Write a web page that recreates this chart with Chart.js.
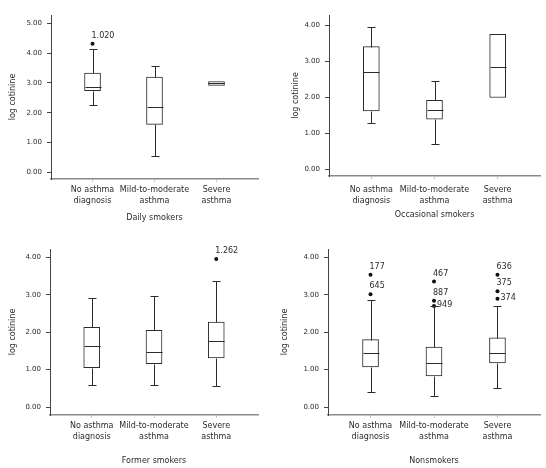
<!DOCTYPE html>
<html>
<head>
<meta charset="utf-8">
<script src="https://cdn.jsdelivr.net/npm/chart.js@4.4.1/dist/chart.umd.min.js"></script>
<style>
    body { margin:0; background:#fff; }
    #wrap { position:relative; width:546px; height:468px; }
    .panel { position:absolute; width:273px; height:234px; }
</style>
</head>
<body>
<div id="wrap">
    <div class="panel" style="left:0; top:0;"><canvas id="c1" width="273" height="234"></canvas></div>
    <div class="panel" style="left:273px; top:0;"><canvas id="c2" width="273" height="234"></canvas></div>
    <div class="panel" style="left:0; top:234px;"><canvas id="c3" width="273" height="234"></canvas></div>
    <div class="panel" style="left:273px; top:234px;"><canvas id="c4" width="273" height="234"></canvas></div>
</div>
<script>
const categoryLabels = [['No asthma', 'diagnosis'], ['Mild-to-moderate', 'asthma'], ['Severe', 'asthma']];
const categoryPos = [1, 2, 3];
const yTicksFive = [0, 1, 2, 3, 4, 5];
const yTicksFour = [0, 1, 2, 3, 4];

// Daily smokers
const dailyLow = [2.26, 0.54, 2.92];
const dailyQ1 = [2.74, 1.61, 2.92];
const dailyMed = [2.88, 2.18, 2.99];
const dailyQ3 = [3.33, 3.20, 3.05];
const dailyHigh = [4.14, 3.56, 3.05];
const dailyOutliers = [{ x: 1, y: 4.32, label: '1.020' }];

// Occasional smokers
const occLow = [1.29, 0.71, 1.99];
const occQ1 = [1.62, 1.39, 1.99];
const occMed = [2.71, 1.63, 2.85];
const occQ3 = [3.40, 1.91, 3.74];
const occHigh = [3.96, 2.44, 3.74];
const occOutliers = [];

// Former smokers
const formerLow = [0.60, 0.60, 0.56];
const formerQ1 = [1.05, 1.16, 1.31];
const formerMed = [1.64, 1.48, 1.77];
const formerQ3 = [2.13, 2.05, 2.27];
const formerHigh = [2.92, 2.97, 3.36];
const formerOutliers = [{ x: 3, y: 3.95, label: '1.262' }];

// Nonsmokers
const nonLow = [0.40, 0.29, 0.51];
const nonQ1 = [1.07, 0.83, 1.18];
const nonMed = [1.45, 1.18, 1.45];
const nonQ3 = [1.80, 1.60, 1.85];
const nonHigh = [2.85, 2.69, 2.71];
const nonOutliers = [
    { x: 1, y: 3.53, label: '177' }, { x: 1, y: 3.01, label: '645' },
    { x: 2, y: 3.35, label: '467' }, { x: 2, y: 2.84, label: '887' }, { x: 2, y: 2.70, label: '949' },
    { x: 3, y: 3.53, label: '636' }, { x: 3, y: 3.09, label: '375' }, { x: 3, y: 2.89, label: '374' }
];
// where each outlier label sits relative to its dot
const nonLabelSide = ['above', 'above', 'above', 'above', 'right', 'above', 'above', 'right'];

const ink = '#2b2b2b';
Chart.defaults.font.family = 'DejaVu Sans';
Chart.defaults.color = ink;

const boxParts = {
    id: 'boxParts',
    afterDatasetsDraw(chart, args, opts) {
        const { ctx, scales: { x, y } } = chart;
        const bars = chart.getDatasetMeta(0).data;
        ctx.save();
        ctx.strokeStyle = ink;
        ctx.lineWidth = 1;
        const line = (x1, y1, x2, y2) => {
            ctx.beginPath();
            ctx.moveTo(Math.round(x1) + 0.5, Math.round(y1) + 0.5);
            ctx.lineTo(Math.round(x2) + 0.5, Math.round(y2) + 0.5);
            ctx.stroke();
        };
        opts.med.forEach((m, i) => {
            const cx = x.getPixelForValue(categoryPos[i]);
            const w = bars[i].width;
            const cap = 8;
            line(cx - w / 2, y.getPixelForValue(m), cx + w / 2, y.getPixelForValue(m));
            if (opts.high[i] > opts.q3[i]) {
                line(cx, y.getPixelForValue(opts.q3[i]), cx, y.getPixelForValue(opts.high[i]));
                line(cx - cap / 2, y.getPixelForValue(opts.high[i]), cx + cap / 2, y.getPixelForValue(opts.high[i]));
            }
            if (opts.low[i] < opts.q1[i]) {
                line(cx, y.getPixelForValue(opts.q1[i]), cx, y.getPixelForValue(opts.low[i]));
                line(cx - cap / 2, y.getPixelForValue(opts.low[i]), cx + cap / 2, y.getPixelForValue(opts.low[i]));
            }
        });
        ctx.font = '8px "DejaVu Sans"';
        ctx.fillStyle = ink;
        ctx.textBaseline = 'middle';
        ctx.textAlign = 'left';
        opts.outliers.forEach((o, i) => {
            const px = x.getPixelForValue(o.x);
            const py = y.getPixelForValue(o.y);
            if ((opts.sides[i] || 'above') === 'right') {
                ctx.fillText(o.label, px + 3, py - 1);
            } else {
                ctx.fillText(o.label, px - 1, py - 8);
            }
        });
        ctx.restore();
    }
};

function makePanel(p) {
    const boxData = categoryPos.map((c, i) => ({ x: c, y: [p.q1[i], p.q3[i]] }));
    new Chart(document.getElementById(p.id), {
        type: 'bar',
        data: {
            datasets: [{
                type: 'bar',
                data: boxData,
                backgroundColor: '#ffffff',
                borderColor: ink,
                borderWidth: 1,
                borderSkipped: false,
                barThickness: 16
            }, {
                type: 'scatter',
                data: p.outliers,
                pointRadius: 2,
                pointBackgroundColor: '#111',
                pointBorderWidth: 0
            }]
        },
        options: {
            responsive: false,
            animation: false,
            devicePixelRatio: 1,
            layout: { padding: { left: 0, top: p.area.top, right: 273 - p.area.right, bottom: 0 } },
            plugins: {
                legend: { display: false },
                tooltip: { enabled: false },
                boxParts: { low: p.low, q1: p.q1, med: p.med, q3: p.q3, high: p.high, outliers: p.outliers, sides: p.sides || [] }
            },
            scales: {
                x: {
                    type: 'linear',
                    min: 0.33,
                    max: 3.67,
                    offset: false,
                    afterBuildTicks: (s) => { s.ticks = categoryPos.map(v => ({ value: v })); },
                    afterFit: (s) => { s.height = 234 - p.area.bottom; },
                    grid: { display: true, drawOnChartArea: false, offset: false, tickLength: 3, color: '#c8c8c8' },
                    border: { display: true, color: '#8a8a8a', width: 1.5 },
                    ticks: {
                        padding: p.xPad,
                        maxRotation: 0,
                        autoSkip: false,
                        font: { size: 8, lineHeight: 1.3 },
                        callback: (v) => categoryLabels[categoryPos.indexOf(v)] || ''
                    },
                    title: { display: true, text: p.title, font: { size: 8 }, padding: { top: 0, bottom: p.xTitlePad } }
                },
                y: {
                    min: p.yMin,
                    max: p.yMax,
                    afterBuildTicks: (s) => { s.ticks = p.yTicks.map(v => ({ value: v })); },
                    afterFit: (s) => { s.width = p.area.left; },
                    grid: { display: true, drawOnChartArea: false, tickLength: 4, color: '#444' },
                    border: { display: true, color: '#444', width: 1 },
                    ticks: { padding: 5, font: { size: 7 }, callback: (v) => v.toFixed(2) },
                    title: { display: true, text: 'log cotinine', font: { size: 8 }, padding: { top: p.yTitlePad, bottom: 0 } }
                }
            }
        },
        plugins: [boxParts]
    });
}

makePanel({ id: 'c1', title: 'Daily smokers', low: dailyLow, q1: dailyQ1, med: dailyMed, q3: dailyQ3, high: dailyHigh,
    outliers: dailyOutliers, yMin: -0.22, yMax: 5.28, yTicks: yTicksFive,
    area: { left: 51, top: 15, right: 258, bottom: 179 }, xPad: 3, xTitlePad: 11, yTitlePad: 8.5 });
makePanel({ id: 'c2', title: 'Occasional smokers', low: occLow, q1: occQ1, med: occMed, q3: occQ3, high: occHigh,
    outliers: occOutliers, yMin: -0.19, yMax: 4.28, yTicks: yTicksFour,
    area: { left: 56, top: 15, right: 267, bottom: 176 }, xPad: 6, xTitlePad: 14, yTitlePad: 18.5 });
makePanel({ id: 'c3', title: 'Former smokers', low: formerLow, q1: formerQ1, med: formerMed, q3: formerQ3, high: formerHigh,
    outliers: formerOutliers, yMin: -0.21, yMax: 4.22, yTicks: yTicksFour,
    area: { left: 50, top: 15, right: 258, bottom: 181 }, xPad: 3, xTitlePad: 2.5, yTitlePad: 8.5 });
makePanel({ id: 'c4', title: 'Nonsmokers', low: nonLow, q1: nonQ1, med: nonMed, q3: nonQ3, high: nonHigh,
    outliers: nonOutliers, sides: nonLabelSide, yMin: -0.21, yMax: 4.22, yTicks: yTicksFour,
    area: { left: 55, top: 15, right: 267, bottom: 181 }, xPad: 3, xTitlePad: 2.5, yTitlePad: 7 });
</script>
</body>
</html>
